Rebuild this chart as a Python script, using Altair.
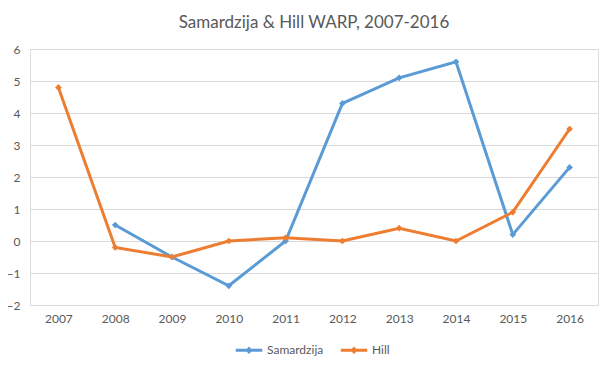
import altair as alt
import pandas as pd

years = ["2007", "2008", "2009", "2010", "2011", "2012", "2013", "2014", "2015", "2016"]
samardzija = [None, 0.5, -0.5, -1.4, 0.0, 4.3, 5.1, 5.6, 0.2, 2.3]
hill = [4.8, -0.2, -0.5, 0.0, 0.1, 0.0, 0.4, 0.0, 0.9, 3.5]
series = ["Samardzija", "Hill"]
colors = ["#5B9BD5", "#ED7D31"]

rows = []
for name, vals in zip(series, [samardzija, hill]):
    for y, v in zip(years, vals):
        if v is not None:
            rows.append({"Year": y, "WARP": v, "Player": name})
df = pd.DataFrame(rows)

FONT = "Lato"
GRAY = "#595959"

x = alt.X("Year:O", sort=years, title=None,
          axis=alt.Axis(labelAngle=0, domain=False, ticks=False, grid=False,
                        labelColor=GRAY, labelFontSize=12, labelFont=FONT, labelPadding=8))
y = alt.Y("WARP:Q", title=None, scale=alt.Scale(domain=[-2, 6], nice=False),
          axis=alt.Axis(values=list(range(-2, 7)), domain=False, ticks=False,
                        gridColor="#D9D9D9", gridWidth=1, labelColor=GRAY,
                        labelFontSize=12, labelFont=FONT, labelPadding=10))
color = alt.Color("Player:N", sort=series,
                  scale=alt.Scale(domain=series, range=colors),
                  legend=alt.Legend(title=None, orient="none", direction="horizontal",
                                    legendX=204, legendY=286,
                                    symbolType="M-1,0H1M-0.12,0L0,-0.12L0.12,0L0,0.12Z",
                                    symbolStrokeWidth=3, symbolSize=700,
                                    labelOffset=3,
                                    labelFont=FONT, labelFontSize=12, labelColor=GRAY,
                                    columnPadding=10))

base = alt.Chart(df)
lines = base.mark_line(strokeWidth=3).encode(x=x, y=y, color=color, detail="Player:N")
points = base.mark_point(shape="diamond", filled=True, size=45, opacity=1).encode(
    x=x, y=y, color=alt.Color("Player:N", sort=series,
                              scale=alt.Scale(domain=series, range=colors), legend=None))

chart = (lines + points).properties(
    width=568, height=256,
    autosize=alt.AutoSizeParams(type="none"),
    padding={"left": 22, "top": 41, "right": 8, "bottom": 55},
    title=alt.TitleParams("Samardzija & Hill WARP, 2007-2016", anchor="middle",
                          font=FONT, fontSize=17, fontWeight="normal", color=GRAY,
                          offset=11),
).configure_view(stroke=None).configure(background="white")

chart.save("out.html", embed_options={"renderer": "svg", "actions": False})
